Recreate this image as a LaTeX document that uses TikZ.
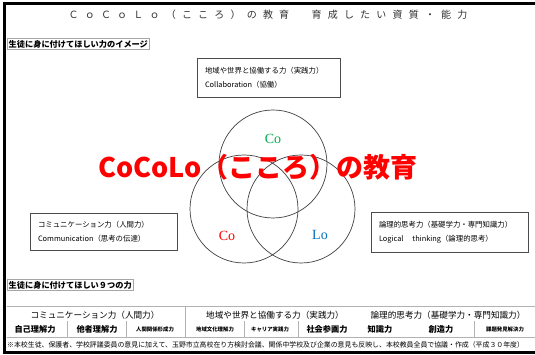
\documentclass[tikz,border=0pt]{standalone}
\usepackage{fontspec}
\setmainfont{Noto Sans CJK JP}
\newfontfamily\jp{Noto Sans CJK JP}
\newfontfamily\jptitle[LetterSpace=62]{Noto Sans CJK JP}
\newfontfamily\lser{Liberation Serif}
\definecolor{cogreen}{RGB}{0,176,80}
\definecolor{lored}{RGB}{255,0,0}
\definecolor{loblue}{RGB}{0,112,192}
\tikzset{
  lbl/.style={draw=black!35, fill=white, inner xsep=1.5pt, inner ysep=1.5pt, anchor=west,
    font=\jp\bfseries\fontsize{8.2}{10}\selectfont},
  infobox/.style={draw=black!70, line width=0.6pt, fill=white, align=left, inner xsep=8pt,
    font=\jp\fontsize{7.4}{14}\selectfont},
  circ/.style={circle, draw=black!75, line width=0.7pt, minimum size=108pt, inner sep=0pt},
  clab/.style={font=\lser\fontsize{14}{16}\selectfont},
  tline/.style={draw=black!30, line width=0.6pt},
  hdr/.style={font=\jp\fontsize{8.6}{10}\selectfont},
  cellA/.style={font=\jp\bfseries\fontsize{8.2}{10}\selectfont},
  cellB/.style={font=\jp\bfseries\fontsize{5.4}{7}\selectfont},
}
\begin{document}
\begin{tikzpicture}[x=1pt,y=-1pt]
\useasboundingbox (0,0) rectangle (535,355);
\fill[white] (0,0) rectangle (535,355);
% frame
\draw[line width=3pt] (540,3.5) -- (4.5,3.5) -- (4.5,352.5) -- (540,352.5);
% title
\node[font=\jptitle\fontsize{10}{12}\selectfont, text=black!80] (title) at (268,15) {ＣｏＣｏＬｏ（こころ）の教育　育成したい資質・能力};
% label boxes
\node[lbl] (lab1) at (7,44) {生徒に身に付けてほしい力のイメージ};
\node[lbl] (lab2) at (7,285) {生徒に身に付けてほしい９つの力};
% circles
\node[circ] (cT) at (273,164) {};
\node[circ] (cL) at (244,209) {};
\node[circ] (cR) at (301,209) {};
\node[clab, text=cogreen] (tCo1) at (273,139) {Co};
\node[clab, text=lored] (tCo2) at (227,236) {Co};
\node[clab, text=loblue] (tLo) at (320,235) {Lo};
% big title
\node[text=lored, font=\jp\bfseries\fontsize{27}{30}\selectfont] (big) at (258,167) {CoCoLo（こころ）の教育};
% info boxes
\node[infobox, text width=127pt, minimum height=39pt] (bT) at (268.5,77.5)
  {地域や世界と協働する力（実践力）\\Collaboration（協働）};
\node[infobox, text width=131pt, minimum height=37pt] (bL) at (103.5,231.5)
  {コミュニケーション力（人間力）\\Communication（思考の伝達）};
\node[infobox, text width=141pt, minimum height=40pt] (bR) at (449.5,232.5)
  {論理的思考力（基礎学力・専門知識力）\\Logical\hspace{1.2em}thinking（論理的思考）};
% table
\draw[tline] (7,306) -- (540,306);
\draw[tline] (7,337) -- (540,337);
\draw[tline] (185,306) -- (185,337);
\foreach \xx in {67,126,244,298,474} \draw[tline] (\xx,321) -- (\xx,337);
\node[hdr] (h1) at (95,315) {コミュニケーション力（人間力）};
\node[hdr] (h2) at (275,315) {地域や世界と協働する力（実践力）};
\node[hdr] (h3) at (448,315) {論理的思考力（基礎学力・専門知識力）};
\node[cellA] (c1) at (35,329) {自己理解力};
\node[cellA] (c2) at (97,329) {他者理解力};
\node[cellB] (c3) at (155,329) {人間関係形成力};
\node[cellB] (c4) at (215,329) {地域文化理解力};
\node[cellB] (c5) at (270,329) {キャリア実践力};
\node[cellA] (c6) at (327,329) {社会参画力};
\node[cellA] (c7) at (380,329) {知識力};
\node[cellA] (c8) at (441,329) {創造力};
\node[cellB] (c9) at (505,329) {課題発見解決力};
\node[anchor=west, font=\jp\fontsize{6.9}{9}\selectfont, inner sep=0pt] (foot) at (7,344.5)
  {※本校生徒、保護者、学校評議委員の意見に加えて、玉野市立高校在り方検討会議、関係中学校及び企業の意見も反映し、本校教員全員で協議・作成（平成３０年度）};
\end{tikzpicture}
\end{document}
